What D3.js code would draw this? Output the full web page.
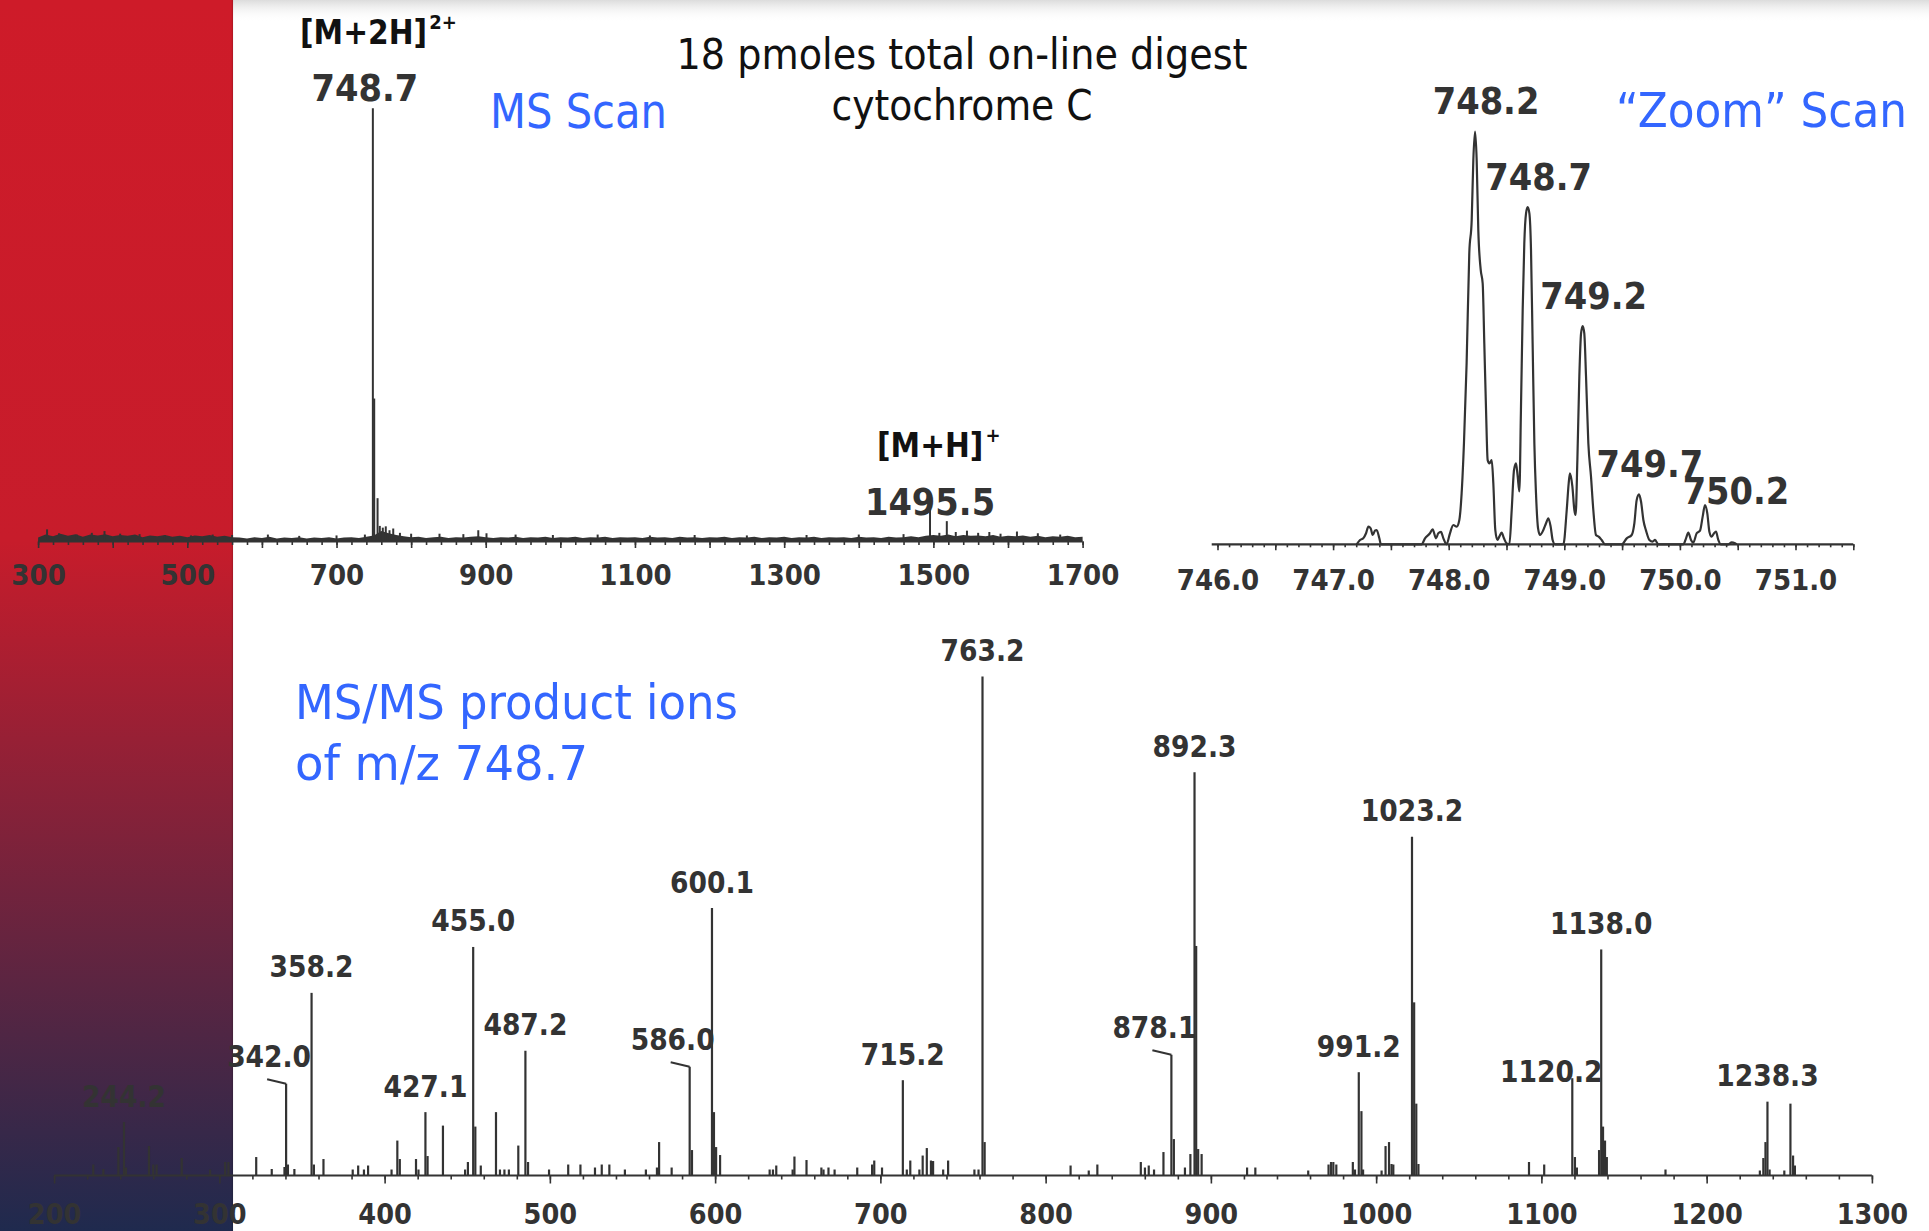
<!DOCTYPE html>
<html>
<head>
<meta charset="utf-8">
<script src="https://cdn.jsdelivr.net/npm/d3@7"></script>
<style>
  body { margin: 0; background: #fff; overflow: hidden; }
  svg { display: block; }
  text { font-family: "DejaVu Sans Condensed", "DejaVu Sans", sans-serif; font-stretch: condensed; }
</style>
</head>
<body>
<svg id="chart" width="1929" height="1231"></svg>
<script>
// ---------- data (intensity in % of the base peak of each spectrum) ----------

// MS scan, m/z 300-1700
const msTickLabels = [300, 500, 700, 900, 1100, 1300, 1500, 1700];
const msNoise = [
  [300,0.9],[310,1.6],[320,1.2],[330,1.8],[340,1.3],[350,1.7],[360,1.1],[370,1.6],[380,1.4],[390,1.7],
  [400,1.2],[410,1.5],[420,1.3],[430,1.6],[440,1.0],[450,1.4],[460,1.2],[470,1.5],[480,1.1],[490,1.3],
  [500,1.0],[510,1.4],[520,1.2],[530,1.5],[540,1.1],[550,1.3],[560,1.0],[570,0.9],[580,0.7],[590,1.0],
  [600,0.8],[610,1.1],[620,0.7],[630,0.9],[640,0.8],[650,1.0],[660,0.7],[670,0.9],[680,0.8],[690,1.0],
  [700,0.7],[710,0.9],[720,1.0],[730,0.8],[740,1.1],[750,1.4],[760,2.4],[770,1.9],[780,1.5],[790,1.2],
  [800,1.0],[810,1.1],[820,0.8],[830,1.0],[840,1.1],[850,0.8],[860,1.0],[870,0.9],[880,1.1],[890,1.2],
  [900,1.0],[910,0.8],[920,1.0],[930,0.9],[940,1.1],[950,0.8],[960,1.0],[970,0.9],[980,1.1],[990,0.8],
  [1000,1.0],[1010,0.9],[1020,1.1],[1030,0.8],[1040,1.0],[1050,0.9],[1060,1.1],[1070,0.8],[1080,1.0],[1090,0.9],
  [1100,1.0],[1110,0.8],[1120,1.1],[1130,0.9],[1140,1.0],[1150,0.8],[1160,1.1],[1170,0.9],[1180,1.0],[1190,0.8],
  [1200,1.0],[1210,0.9],[1220,1.1],[1230,0.8],[1240,1.0],[1250,0.9],[1260,1.1],[1270,0.8],[1280,1.0],[1290,0.9],
  [1300,1.1],[1310,0.8],[1320,1.0],[1330,0.9],[1340,1.1],[1350,0.8],[1360,1.0],[1370,0.9],[1380,1.0],[1390,0.8],
  [1400,1.1],[1410,0.9],[1420,1.0],[1430,0.8],[1440,1.1],[1450,0.9],[1460,1.0],[1470,1.2],[1480,1.0],[1490,1.3],
  [1500,1.5],[1510,1.3],[1520,1.6],[1530,1.2],[1540,1.5],[1550,1.3],[1560,1.4],[1570,1.2],[1580,1.5],[1590,1.1],
  [1600,1.3],[1610,1.2],[1620,1.4],[1630,1.1],[1640,1.3],[1650,1.0],[1660,1.2],[1670,1.1],[1680,1.3],[1690,1.0],
  [1700,1.1]
];
const msPeaks = [
  [312,2.8],[328,1.9],[352,1.6],[372,2.0],[389,2.4],[410,1.8],[436,1.7],[470,1.5],[505,1.4],[534,1.6],
  [560,1.5],[608,1.6],[650,1.3],[700,1.4],[738,1.6],[748.7,100],[750.5,33],[755,10],[758,3.6],[762,3.2],
  [766,3.5],[771,2.6],[776,3.0],[785,2.0],[800,1.8],[838,1.8],[870,1.7],[890,2.6],[901,1.9],[940,1.6],
  [990,1.5],[1050,1.6],[1120,1.4],[1180,1.5],[1250,1.4],[1330,1.5],[1400,1.6],[1460,1.7],[1495.5,7.5],[1508,2.0],
  [1518,4.7],[1530,2.2],[1545,2.5],[1560,2.0],[1575,2.2],[1590,1.8],[1612,2.3],[1640,1.9],[1670,1.6]
];
const msLabels = [
  { text: "748.7", mz: 748.7, i: 100 },
  { text: "1495.5", mz: 1495.5, i: 7.5 }
];
const msIons = [
  { text: "[M+2H]", sup: "2+", mz: 748.7, i: 100 },
  { text: "[M+H]", sup: "+", mz: 1495.5, i: 7.5 }
];

// "Zoom" scan, m/z 746-751.5 (profile)
const zoomTickLabels = [746, 747, 748, 749, 750, 751];
const zoomProfile = [
  [747.204,0],[747.233,1.05],[747.261,1.45],[747.285,2.67],[747.305,4.28],[747.325,3.88],[747.342,2.26],
  [747.362,3.31],[747.377,3.47],[747.400,1.45],[747.414,0],
  [747.766,0],[747.795,1.45],[747.838,2.67],[747.861,3.63],[747.890,1.45],[747.910,2.67],[747.933,2.99],
  [747.954,1.45],[747.982,0],
  [748.011,2.67],[748.040,4.68],[748.069,4.28],[748.092,5.90],[748.112,12.4],[748.132,24.5],[748.155,43.9],
  [748.178,70.5],[748.199,78.6],[748.213,93.1],[748.228,100],[748.242,93.1],[748.256,76.2],[748.277,66.5],
  [748.294,63.2],[748.308,48.7],[748.323,32.6],[748.337,20.4],[748.352,19.6],[748.372,20.4],[748.386,14.8],
  [748.403,3.47],[748.421,1.05],[748.438,1.86],[748.458,2.83],[748.478,1.45],[748.501,0.24],[748.525,0],
  [748.545,8.32],[748.565,18.0],[748.582,19.6],[748.597,16.4],[748.611,12.8],[748.625,32.6],[748.640,56.8],
  [748.654,72.9],[748.669,80.2],[748.683,81.7],[748.698,80.2],[748.712,71.3],[748.726,48.7],[748.741,24.5],
  [748.755,12.4],[748.773,3.88],[748.790,2.26],[748.819,3.47],[748.842,5.09],[748.862,6.30],[748.882,4.28],
  [748.899,1.05],[748.920,0],
  [748.992,0],[749.021,8.32],[749.038,14.8],[749.049,17.2],[749.070,14.0],[749.087,8.32],[749.098,7.11],
  [749.113,20.4],[749.130,40.6],[749.145,51.1],[749.159,52.9],[749.173,51.1],[749.188,40.6],[749.208,24.5],
  [749.231,16.4],[749.251,8.32],[749.274,2.26],[749.297,1.86],[749.323,1.05],[749.352,0],
  [749.496,0],[749.540,1.45],[749.583,2.26],[749.606,5.09],[749.626,10.7],[749.646,12.1],[749.664,10.3],
  [749.684,5.90],[749.707,3.31],[749.736,1.05],[749.764,0.65],[749.785,1.05],[749.813,0],
  [750.030,0],[750.053,1.45],[750.073,2.83],[750.096,1.05],[750.116,0.40],[750.145,2.67],[750.174,3.31],
  [750.197,6.70],[750.217,9.53],[750.237,7.51],[750.255,3.07],[750.275,1.86],[750.295,2.67],[750.312,3.07],
  [750.332,1.05],[750.353,0],
  [750.419,0],[750.448,0.48],[750.477,0.24],[750.491,0]
];
const zoomLabels = [
  { text: "748.2", mz: 748.228, i: 100 },
  { text: "748.7", mz: 748.683, i: 81.7 },
  { text: "749.2", mz: 749.159, i: 52.9 },
  { text: "749.7", mz: 749.646, i: 12.1 },
  { text: "750.2", mz: 750.217, i: 9.53 }
];

// MS/MS product ions of m/z 748.7, m/z 200-1300
const msmsTickLabels = [200, 300, 400, 500, 600, 700, 800, 900, 1000, 1100, 1200, 1300];
const msmsPeaks = [
  [223.7,2.2],[229.8,1.3],[238.9,5.7],[242.3,10.7],[243.5,1.6],[257.4,5.9],[260,2.2],[262,2.2],[277.2,3.5],
  [294.4,1.2],[303.5,2.7],[305.5,2.7],[322.3,3.7],[331.7,1.3],[339.4,1.7],[340.4,18.4],[341.5,2.2],[345.4,1.3],
  [355.8,36.6],[357.2,2.2],[363,3.3],[380.7,1.2],[384,2.0],[387.5,1.2],[390,2.0],[404.2,1.2],[407.7,7.0],
  [409.2,3.3],[419,3.3],[420.5,1.2],[424.7,12.7],[426,3.9],[435.3,10.0],[448.7,1.2],[450.4,2.7],[453.6,45.8],
  [454.9,9.8],[458.2,2.0],[467.4,12.7],[469.8,1.2],[472.5,1.2],[475.2,1.2],[480.9,6.0],[485.2,25.0],[486.8,2.7],
  [499.5,1.2],[511.1,2.2],[518.5,2.2],[527.3,1.6],[531.4,2.2],[536,2.2],[545.4,1.2],[558.1,1.2],[564.8,1.6],
  [566.1,6.7],[573.7,1.6],[584.6,21.8],[586,5.1],[598.1,53.6],[599.3,12.7],[600.6,5.7],[603,4.1],[633,1.2],
  [635,1.2],[637,2.0],[646.9,1.2],[648,3.8],[655.3,3.1],[664.3,1.6],[665.6,1.2],[668.6,1.6],[672.3,1.2],
  [686,1.6],[695,2.2],[696.3,3.0],[701,1.6],[713.6,19.1],[716,1.2],[718.1,3.0],[723.6,1.2],[725.6,4.0],
  [728.1,5.5],[730.6,3.0],[731.9,2.9],[738,1.2],[741,3.0],[756.9,1.2],[759.4,1.2],[761.8,100],[763.1,6.7],
  [815.1,2.0],[826.1,1.0],[831.3,2.2],[857.6,2.7],[860.1,1.6],[862.4,2.0],[865.6,1.2],[871.3,4.7],[876.1,24.2],
  [877.6,7.3],[884.3,1.6],[887.6,4.3],[890.1,80.8],[891.1,46.0],[892.3,5.3],[894.4,4.3],[921.9,1.6],[926.9,1.6],
  [958.9,1.0],[971.2,2.2],[972.7,2.7],[974.1,2.7],[975.9,2.2],[985.9,2.7],[987.2,1.2],[989.5,20.7],[991.1,12.9],
  [992.1,1.2],[1003.3,1.0],[1005.7,5.9],[1007.8,6.7],[1009.3,2.3],[1010.4,2.2],[1021.7,67.9],[1023,34.7],
  [1024.3,14.4],[1025.6,2.3],[1092.5,2.7],[1101.7,2.2],[1118.7,19.5],[1120.3,3.7],[1121.5,1.6],[1134.9,5.1],
  [1136.2,45.3],[1137.3,9.8],[1138.5,7.0],[1139.6,3.7],[1175.1,1.2],[1232.2,1.0],[1234.3,3.5],[1235.6,6.7],
  [1236.8,14.8],[1238.1,1.2],[1247,1.0],[1250.7,14.4],[1252.3,4.0],[1253.4,2.0]
];
const msmsLabels = [
  { text: "244.2", mz: 242.3, i: 10.7 },
  { text: "342.0", mz: 340.4, i: 18.4, leader: true },
  { text: "358.2", mz: 355.8, i: 36.6 },
  { text: "427.1", mz: 424.7, i: 12.7 },
  { text: "455.0", mz: 453.6, i: 45.8 },
  { text: "487.2", mz: 485.2, i: 25.0 },
  { text: "586.0", mz: 584.6, i: 21.8, leader: true },
  { text: "600.1", mz: 598.1, i: 53.6 },
  { text: "715.2", mz: 713.6, i: 19.1 },
  { text: "763.2", mz: 761.8, i: 100 },
  { text: "878.1", mz: 876.1, i: 24.2, leader: true },
  { text: "892.3", mz: 890.1, i: 80.8 },
  { text: "991.2", mz: 989.5, i: 20.7 },
  { text: "1023.2", mz: 1021.7, i: 67.9 },
  { text: "1120.2", mz: 1118.7, i: 19.5 },
  { text: "1138.0", mz: 1136.2, i: 45.3 },
  { text: "1238.3", mz: 1236.8, i: 14.8 }
];

// ---------- layout ----------
const ink = "#333";
const blue = "#3366ff";
const svg = d3.select("#chart");
const defs = svg.append("defs");

const xMs = d3.scaleLinear().domain([300, 1700]).range([38.1, 1082.6]);
const yMs = d3.scaleLinear().domain([0, 100]).range([541.5, 108.3]);
const xZoom = d3.scaleLinear().domain([746, 751]).range([1217.5, 1795.5]);
const yZoom = d3.scaleLinear().domain([0, 100]).range([544.3, 131.7]);
const xMsms = d3.scaleLinear().domain([200, 1300]).range([54.1, 1871.9]);
const yMsms = d3.scaleLinear().domain([0, 100]).range([1175.5, 676.5]);

// slide background: side bar + faint top shadow
const barGrad = defs.append("linearGradient").attr("id", "bar")
  .attr("x1", 0).attr("y1", 0).attr("x2", 0).attr("y2", 1);
barGrad.selectAll("stop")
  .data([[0, "#ce1b29"], [0.44, "#c71c2b"], [1, "#1f2a4e"]])
  .join("stop")
    .attr("offset", d => d[0])
    .attr("stop-color", d => d[1]);

const topGrad = defs.append("linearGradient").attr("id", "topshade")
  .attr("x1", 0).attr("y1", 0).attr("x2", 0).attr("y2", 1);
topGrad.selectAll("stop")
  .data([[0, "#dcdcdc", 1], [1, "#ffffff", 0]])
  .join("stop")
    .attr("offset", d => d[0])
    .attr("stop-color", d => d[1])
    .attr("stop-opacity", d => d[2]);

svg.append("rect").attr("x", 233).attr("y", 0).attr("width", 1929 - 233).attr("height", 22)
  .attr("fill", "url(#topshade)");
svg.append("rect").attr("x", 0).attr("y", 0).attr("width", 233).attr("height", 1231)
  .attr("fill", "url(#bar)");
svg.append("line").attr("x1", 232.5).attr("x2", 232.5).attr("y1", 0).attr("y2", 1231)
  .attr("stroke", "#000").attr("stroke-opacity", 0.12).attr("stroke-width", 1.5);

// axis helper: minor + major ticks, labels, own domain line
function drawAxis(x, y0, o) {
  const g = svg.append("g").attr("transform", `translate(0,${y0})`);
  const minor = d3.axisBottom(x).tickValues(o.minor).tickSize(o.minorLen).tickFormat("");
  const major = d3.axisBottom(x).tickValues(o.major).tickSize(o.majorLen).tickFormat("");
  const labels = d3.axisBottom(x).tickValues(o.labels).tickSize(0).tickPadding(o.pad).tickFormat(o.fmt);
  [minor, major, labels].forEach(a => {
    const s = g.append("g").call(a).attr("font-family", null).attr("font-size", null);
    s.select(".domain").remove();
    s.selectAll(".tick line").attr("stroke", ink).attr("stroke-width", 1.6);
  });
  g.selectAll(".tick text")
    .attr("fill", ink)
    .attr("font-size", o.fontSize)
    .attr("font-weight", "bold");
  g.append("line")
    .attr("x1", x(o.extent[0])).attr("x2", x(o.extent[1]))
    .attr("stroke", ink).attr("stroke-width", 2.2);
}

function sticks(data, x, y, width) {
  svg.append("g").selectAll("line")
    .data(data)
    .join("line")
      .attr("x1", d => x(d[0])).attr("x2", d => x(d[0]))
      .attr("y1", y(0)).attr("y2", d => y(d[1]))
      .attr("stroke", ink)
      .attr("stroke-width", width);
}

// ---------- MS scan ----------
svg.append("path")
  .datum(msNoise)
  .attr("d", d3.area().x(d => xMs(d[0])).y0(yMs(0)).y1(d => yMs(d[1])))
  .attr("fill", ink);
sticks(msPeaks, xMs, yMs, 2);
drawAxis(xMs, yMs(0), {
  minor: d3.range(300, 1701, 20), major: d3.range(300, 1701, 100), labels: msTickLabels,
  minorLen: 3.5, majorLen: 6.5, pad: 23.4, fontSize: 29, fmt: d3.format("d"), extent: [300, 1700]
});

const msLabelOffset = { "748.7": [-8, -7], "1495.5": [0, 5.5] };
svg.append("g").selectAll("text")
  .data(msLabels)
  .join("text")
    .attr("x", d => xMs(d.mz) + msLabelOffset[d.text][0])
    .attr("y", d => yMs(d.i) + msLabelOffset[d.text][1])
    .attr("text-anchor", "middle")
    .attr("font-size", 37.5)
    .attr("font-weight", "bold")
    .attr("fill", ink)
    .text(d => d.text);

const ionOffset = { "[M+2H]": [-72.8, -64], "[M+H]": [-53, -52] };
const ions = svg.append("g").selectAll("text")
  .data(msIons)
  .join("text")
    .attr("x", d => xMs(d.mz) + ionOffset[d.text][0])
    .attr("y", d => yMs(d.i) + ionOffset[d.text][1])
    .attr("font-size", 33)
    .attr("font-weight", "bold")
    .attr("fill", "#111");
ions.append("tspan").text(d => d.text);
ions.append("tspan").attr("font-size", 20).attr("dy", -15).attr("dx", 2).text(d => d.sup);

// ---------- Zoom scan ----------
drawAxis(xZoom, yZoom(0), {
  minor: d3.range(7460, 7516).map(v => v / 10), major: d3.range(7460, 7516, 5).map(v => v / 10),
  labels: zoomTickLabels, minorLen: 3, majorLen: 6, pad: 25.1, fontSize: 29,
  fmt: d3.format(".1f"), extent: [745.95, 751.5]
});
svg.append("path")
  .datum(zoomProfile)
  .attr("d", d3.line().x(d => xZoom(d[0])).y(d => yZoom(d[1])).curve(d3.curveMonotoneX))
  .attr("fill", "none")
  .attr("stroke", ink)
  .attr("stroke-width", 2.2)
  .attr("stroke-linejoin", "round");

const zoomLabelOffset = { "750.2": [31, -0.7] };
svg.append("g").selectAll("text")
  .data(zoomLabels)
  .join("text")
    .attr("x", d => xZoom(d.mz) + (zoomLabelOffset[d.text] || [11])[0])
    .attr("y", d => yZoom(d.i) + (zoomLabelOffset[d.text] || [0, -17.5])[1])
    .attr("text-anchor", "middle")
    .attr("font-size", 37.5)
    .attr("font-weight", "bold")
    .attr("fill", ink)
    .text(d => d.text);

// ---------- MS/MS ----------
sticks(msmsPeaks, xMsms, yMsms, 2.2);
drawAxis(xMsms, yMsms(0), {
  minor: d3.range(200, 1301, 20), major: d3.range(200, 1301, 100), labels: msmsTickLabels,
  minorLen: 4, majorLen: 8, pad: 28, fontSize: 28.5, fmt: d3.format("d"), extent: [200, 1300]
});

const leaderDx = -19, leaderDy = -4.5;
svg.append("g").selectAll("line")
  .data(msmsLabels.filter(d => d.leader))
  .join("line")
    .attr("x1", d => xMsms(d.mz)).attr("y1", d => yMsms(d.i))
    .attr("x2", d => xMsms(d.mz) + leaderDx).attr("y2", d => yMsms(d.i) + leaderDy)
    .attr("stroke", ink).attr("stroke-width", 2);

function msmsOffset(d) {
  if (d.text === "1120.2") return [-21, 4];
  if (d.leader) return [-17, -17];
  return [0, -15.5];
}
svg.append("g").selectAll("text")
  .data(msmsLabels)
  .join("text")
    .attr("x", d => xMsms(d.mz) + msmsOffset(d)[0])
    .attr("y", d => yMsms(d.i) + msmsOffset(d)[1])
    .attr("text-anchor", "middle")
    .attr("font-size", 29.5)
    .attr("font-weight", "bold")
    .attr("fill", ink)
    .text(d => d.text);

// ---------- captions ----------
const captions = [
  { text: "18 pmoles total on-line digest", x: 962, y: 69, anchor: "middle", len: 571, size: 43, color: "#111" },
  { text: "cytochrome C", x: 962, y: 119.5, anchor: "middle", len: 261, size: 43, color: "#111" },
  { text: "MS Scan", x: 490, y: 128, anchor: "start", len: 177, size: 48, color: blue },
  { text: "\u201CZoom\u201D Scan", x: 1616, y: 127.3, anchor: "start", len: 291, size: 48, color: blue },
  { text: "MS/MS product ions", x: 295, y: 719, anchor: "start", len: 443, size: 48, color: blue },
  { text: "of m/z 748.7", x: 295, y: 779.5, anchor: "start", len: 293, size: 48, color: blue }
];
svg.append("g").selectAll("text")
  .data(captions)
  .join("text")
    .attr("x", d => d.x)
    .attr("y", d => d.y)
    .attr("text-anchor", d => d.anchor)
    .attr("font-size", d => d.size)
    .attr("textLength", d => d.len)
    .attr("lengthAdjust", "spacingAndGlyphs")
    .attr("fill", d => d.color)
    .text(d => d.text);
</script>
</body>
</html>
